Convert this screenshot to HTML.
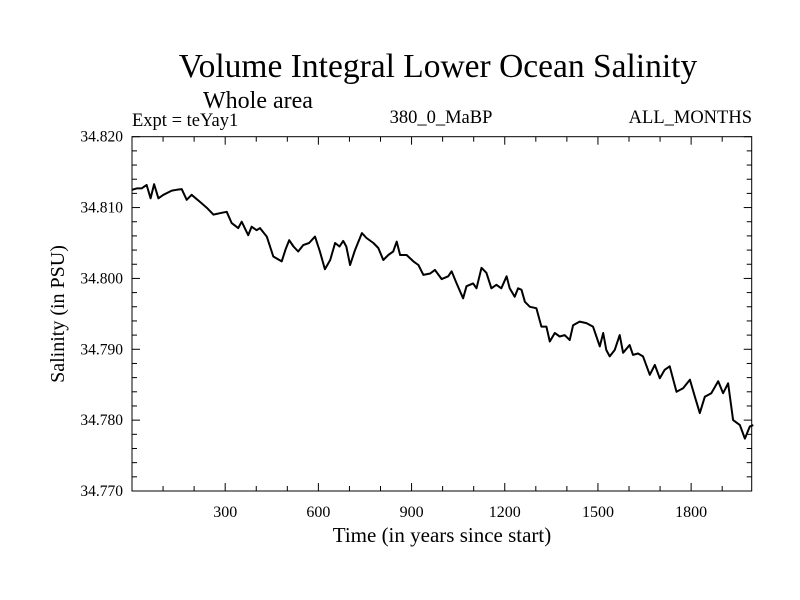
<!DOCTYPE html>
<html><head><meta charset="utf-8"><style>
body{margin:0;background:#fff}
svg{display:block;font-family:"Liberation Serif",serif}
</style></head><body>
<svg id="chart" width="800" height="600">
<rect width="800" height="600" fill="#fff"/>
<text x="438" y="77" font-size="33.5" text-anchor="middle">Volume Integral Lower Ocean Salinity</text>
<text x="258" y="108" font-size="24" text-anchor="middle">Whole area</text>
<text x="132" y="126" font-size="18.5">Expt = teYay1</text>
<text x="441" y="123" font-size="18.5" text-anchor="middle">380_0_MaBP</text>
<text x="752" y="123" font-size="18.5" text-anchor="end">ALL_MONTHS</text>
<text x="442" y="542" font-size="21" text-anchor="middle">Time (in years since start)</text>
<text transform="translate(64,314) rotate(-90)" font-size="20" text-anchor="middle">Salinity (in PSU)</text>
<g id="axes"></g>
<path id="series" fill="none" stroke="#000" stroke-width="2" stroke-linejoin="round"/>
<rect x="132" y="136.7" width="619.7" height="354.3" fill="none" stroke="#000" stroke-width="1"/>
</svg>
<script>
const years = [0,15,31,47,60,71,85,101,128,144,160,176,192,219,240,262,283,305,321,342,353,374,385,401,412,434,455,482,495,506,520,535,551,570,589,605,621,638,654,668,680,690,702,718,740,755,777,793,809,825,841,852,863,884,906,922,938,960,975,997,1018,1029,1045,1066,1077,1098,1109,1125,1141,1157,1173,1189,1206,1216,1232,1243,1254,1265,1281,1302,1318,1334,1345,1361,1377,1393,1409,1420,1441,1463,1484,1495,1506,1517,1527,1538,1554,1570,1581,1602,1613,1629,1645,1667,1683,1699,1715,1731,1753,1774,1796,1812,1828,1844,1865,1887,1903,1919,1935,1957,1973,1989,2000];
const salinity = [34.8125,34.8127,34.8127,34.8132,34.8113,34.8133,34.8113,34.8118,34.8124,34.8125,34.8126,34.8111,34.8118,34.8108,34.8100,34.8090,34.8092,34.8094,34.8078,34.8071,34.8080,34.8061,34.8073,34.8068,34.8071,34.8059,34.8031,34.8024,34.8042,34.8054,34.8045,34.8038,34.8047,34.8050,34.8059,34.8038,34.8013,34.8026,34.8050,34.8045,34.8053,34.8045,34.8019,34.8040,34.8064,34.8057,34.8050,34.8043,34.8026,34.8033,34.8038,34.8052,34.8033,34.8033,34.8024,34.8019,34.8005,34.8007,34.8012,34.7999,34.8003,34.8010,34.7993,34.7972,34.7989,34.7993,34.7986,34.8015,34.8008,34.7986,34.7991,34.7986,34.8003,34.7986,34.7974,34.7986,34.7984,34.7967,34.7960,34.7958,34.7932,34.7932,34.7911,34.7923,34.7918,34.7920,34.7913,34.7934,34.7939,34.7937,34.7932,34.7918,34.7904,34.7923,34.7899,34.7890,34.7899,34.7920,34.7895,34.7906,34.7892,34.7894,34.7890,34.7864,34.7878,34.7859,34.7871,34.7876,34.7840,34.7845,34.7857,34.7833,34.7810,34.7833,34.7838,34.7855,34.7838,34.7852,34.7800,34.7793,34.7774,34.7791,34.7793];
const xTicks = [300,600,900,1200,1500,1800];
const yTicks = ["34.770","34.780","34.790","34.800","34.810","34.820"];

const X0=132,X1=751.7,Y0=491,Y1=136.7,XMIN=0,XMAX=1995,YMIN=34.770,YMAX=34.820;
const xs=v=>X0+(v-XMIN)/(XMAX-XMIN)*(X1-X0);
const ys=v=>Y0-(v-YMIN)/(YMAX-YMIN)*(Y0-Y1);
const NS='http://www.w3.org/2000/svg';
const g=document.getElementById('axes');
function mk(tag,attrs){const e=document.createElementNS(NS,tag);for(const k in attrs)e.setAttribute(k,attrs[k]);g.appendChild(e);return e;}
for(let v=100;v<XMAX;v+=100){
  const major=v%300===0,x=xs(v),l=major?8:5;
  const t1=mk('line',{x1:x,x2:x,y1:Y0,y2:Y0-l,stroke:'#000'});
  
  
  const t2=mk('line',{x1:x,x2:x,y1:Y1,y2:Y1+l,stroke:'#000'});
  
  
}
xTicks.forEach(v=>{
  const t=mk('text',{x:xs(v),y:517,'font-size':16,'text-anchor':'middle'});
  t.textContent=v;
  
  
});
for(let i=0;i<=25;i++){
  const v=YMIN+i*0.002,y=ys(v),major=i%5===0,l=major?8:5;
  const t1=mk('line',{x1:X0,x2:X0+l,y1:y,y2:y,stroke:'#000'});
  
  
  const t2=mk('line',{x1:X1,x2:X1-l,y1:y,y2:y,stroke:'#000'});
  
  
}
yTicks.forEach(s=>{
  const t=mk('text',{x:123,y:ys(parseFloat(s))+5,'font-size':15.5,'text-anchor':'end'});
  t.textContent=s;
  
  
});
document.getElementById('series').setAttribute('d',years.map((yr,i)=>(i?'L':'M')+xs(yr).toFixed(1)+','+ys(salinity[i]).toFixed(1)).join(''));
</script>
</body></html>
